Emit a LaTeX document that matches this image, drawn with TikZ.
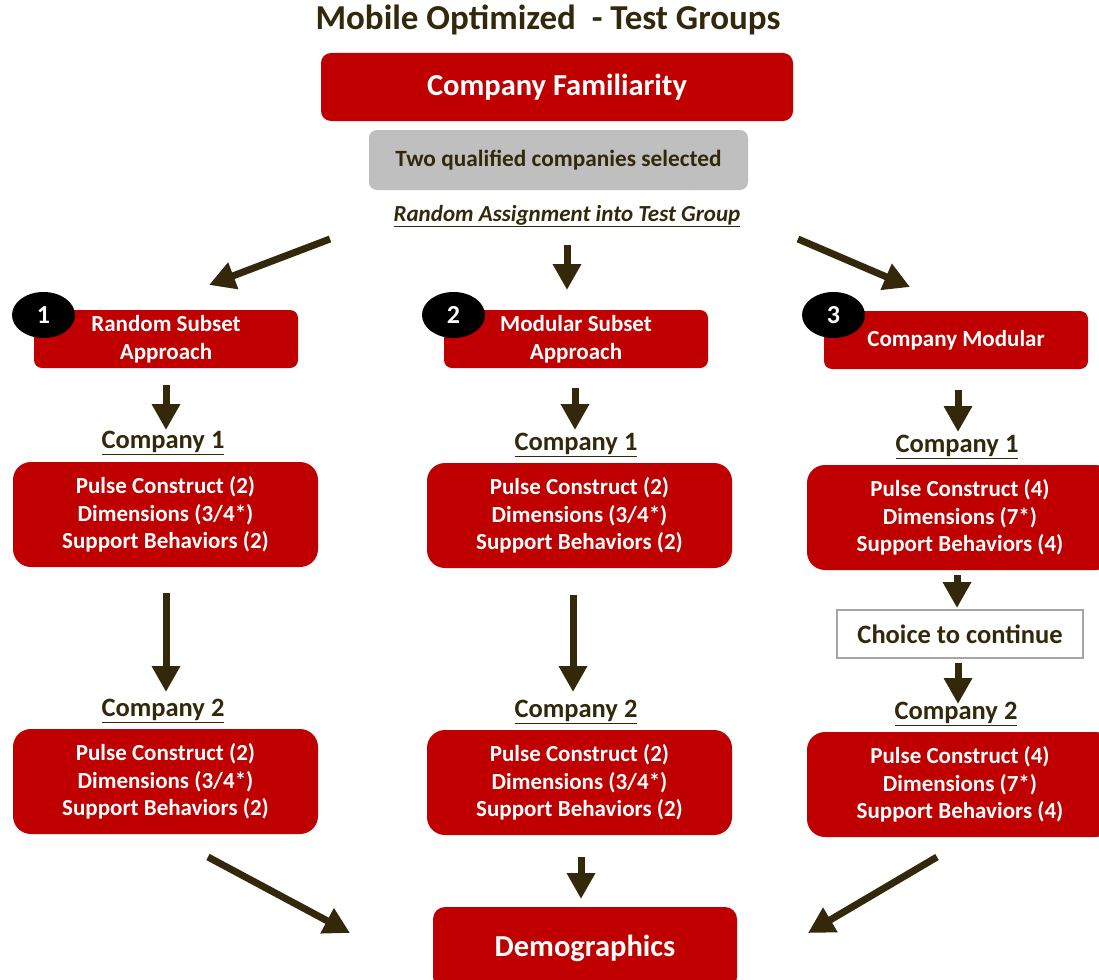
\documentclass[tikz,border=0pt]{standalone}
\usepackage{fontspec}
\setmainfont{Carlito}
\usetikzlibrary{arrows.meta,shapes.geometric}
\definecolor{myred}{HTML}{C00000}
\definecolor{dark}{HTML}{33290A}
\definecolor{greybox}{HTML}{BFBFBF}
\begin{document}
\begin{tikzpicture}[x=1pt,y=-1pt,
  redbox/.style={fill=myred, draw=none, rounded corners=10pt, text=white, align=center,
    font=\bfseries\fontsize{23}{27.5}\selectfont, inner sep=0pt},
  apbox/.style={redbox, minimum width=264pt, minimum height=58pt, rounded corners=8pt,
    font=\bfseries\fontsize{23}{28}\selectfont},
  cbox/.style={redbox, minimum width=305pt, minimum height=105pt, rounded corners=18pt},
  numcirc/.style={ellipse, fill=black, minimum width=63pt, minimum height=46pt, inner sep=0pt,
    text=white, font=\bfseries\fontsize{26}{26}\selectfont},
  clabel/.style={text=dark, font=\bfseries\fontsize{26.5}{26.5}\selectfont, inner sep=0pt},
  bigarrow/.style={draw=dark, line width=7pt, -{Triangle[length=26pt,width=27pt]}},
]
\useasboundingbox (0,0) rectangle (1099,979);
\clip (0,0) rectangle (1099,979);

% title
\node[text=dark, font=\bfseries\fontsize{35}{35}\selectfont, inner sep=0pt] (title) at (548,20) {Mobile Optimized\ \ - Test Groups};

\node[redbox, minimum width=472pt, minimum height=68pt, rounded corners=10pt,
  font=\bfseries\fontsize{30.5}{30.5}\selectfont] (fam) at (557,87) {Company Familiarity};
\node[fill=greybox, rounded corners=8pt, minimum width=379pt, minimum height=60pt, inner sep=0pt,
  text=dark, font=\bfseries\fontsize{23.3}{23.3}\selectfont] (sel) at (558.5,160) {Two qualified companies selected};
\node[text=dark, inner sep=0pt, font=\bfseries\itshape\fontsize{23}{23}\selectfont] (ra) at (567,216) {\underline{Random Assignment into Test Group}};

% approach boxes
\node[apbox] (ap1) at (166,339) {Random Subset\\Approach};
\node[apbox] (ap2) at (576,339) {Modular Subset\\Approach};
\node[apbox] (ap3) at (956,340) {Company Modular};
\node[numcirc] (n1) at (43.5,315) {1};
\node[numcirc] (n2) at (453.5,315) {2};
\node[numcirc] (n3) at (833.5,315) {3};

% company 1 labels
\node[clabel] (l11) at (163,443) {\underline{Company 1}};
\node[clabel] (l21) at (576,445) {\underline{Company 1}};
\node[clabel] (l31) at (957,447) {\underline{Company 1}};

% company 1 boxes
\node[cbox] (c11) at (165.5,514.5) {Pulse Construct (2)\\Dimensions (3/4*)\\Support Behaviors (2)};
\node[cbox] (c21) at (579.5,515.5) {Pulse Construct (2)\\Dimensions (3/4*)\\Support Behaviors (2)};
\node[cbox, minimum width=306pt] (c31) at (960,517.5) {Pulse Construct (4)\\Dimensions (7*)\\Support Behaviors (4)};

% choice
\node[draw=gray!70, line width=1.2pt, fill=white, minimum width=246pt, minimum height=48pt, inner sep=0pt,
  text=dark, font=\bfseries\fontsize{26.5}{26.5}\selectfont] (ch) at (960,634) {Choice to continue};

% company 2 labels
\node[clabel] (l12) at (163,711) {\underline{Company 2}};
\node[clabel] (l22) at (576,712) {\underline{Company 2}};
\node[clabel] (l32) at (956,714) {\underline{Company 2}};

% company 2 boxes
\node[cbox] (c12) at (165.5,781.5) {Pulse Construct (2)\\Dimensions (3/4*)\\Support Behaviors (2)};
\node[cbox] (c22) at (579.5,782.5) {Pulse Construct (2)\\Dimensions (3/4*)\\Support Behaviors (2)};
\node[cbox, minimum width=306pt] (c32) at (960,784.5) {Pulse Construct (4)\\Dimensions (7*)\\Support Behaviors (4)};

% demographics
\node[redbox, minimum width=304pt, minimum height=82pt, rounded corners=12pt,
  font=\bfseries\fontsize{30.5}{30.5}\selectfont] (demo) at (585,948) {Demographics};

% arrow endpoints
\coordinate (a1s) at (330,239);  \coordinate (a1e) at (209,285);
\coordinate (a2s) at (567,245);  \coordinate (a2e) at (567,290);
\coordinate (a3s) at (798,239);  \coordinate (a3e) at (910,287);
\coordinate (b1s) at (166,385);  \coordinate (b1e) at (166,430);
\coordinate (b2s) at (575,388);  \coordinate (b2e) at (575,430);
\coordinate (b3s) at (958,390);  \coordinate (b3e) at (958,432);
\coordinate (d1s) at (166,593);  \coordinate (d1e) at (166,692);
\coordinate (d2s) at (573,595);  \coordinate (d2e) at (573,692);
\coordinate (d3s) at (957,575);  \coordinate (d3e) at (957,608);
\coordinate (e3s) at (958,663);  \coordinate (e3e) at (958,704);
\coordinate (f1s) at (208,857);  \coordinate (f1e) at (350,933);
\coordinate (f2s) at (581,857);  \coordinate (f2e) at (581,899);
\coordinate (f3s) at (937,857);  \coordinate (f3e) at (808,933);

\draw[bigarrow] (a1s) -- (a1e);
\draw[bigarrow] (a2s) -- (a2e);
\draw[bigarrow] (a3s) -- (a3e);
\draw[bigarrow] (b1s) -- (b1e);
\draw[bigarrow] (b2s) -- (b2e);
\draw[bigarrow] (b3s) -- (b3e);
\draw[bigarrow] (d1s) -- (d1e);
\draw[bigarrow] (d2s) -- (d2e);
\draw[bigarrow] (d3s) -- (d3e);
\draw[bigarrow] (e3s) -- (e3e);
\draw[bigarrow] (f1s) -- (f1e);
\draw[bigarrow] (f2s) -- (f2e);
\draw[bigarrow] (f3s) -- (f3e);
\end{tikzpicture}
\end{document}
